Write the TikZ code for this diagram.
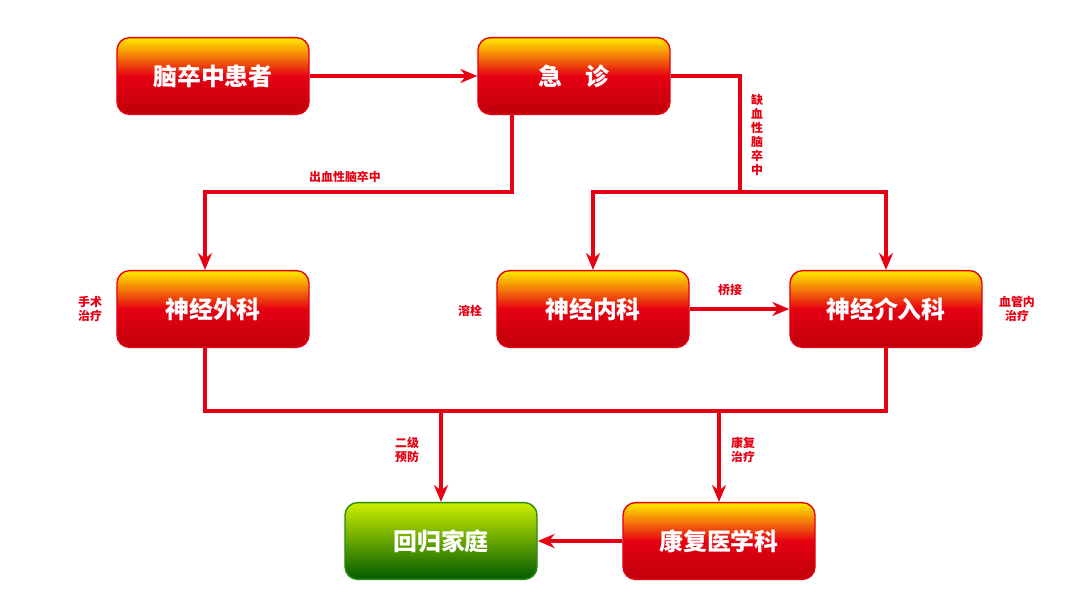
\documentclass[tikz,border=0pt]{standalone}
\usepackage{fontspec}
\newfontfamily\cjk{Noto Sans CJK SC}
\usetikzlibrary{arrows.meta}
\definecolor{boxred}{RGB}{230,0,18}
\definecolor{boxdark}{RGB}{190,0,10}
\definecolor{boxyellow}{RGB}{255,236,0}
\definecolor{boxgreen}{RGB}{40,140,20}
\begin{document}
\begin{tikzpicture}[x=0.025cm, y=-0.025cm, >={Stealth[length=12pt,width=10pt]},
		box_style/.style={rectangle,rounded corners=9pt,draw=boxred,line width=1pt,
			minimum width=4.8cm,minimum height=1.92cm,top color=boxyellow,bottom color=boxdark,
			middle color=boxred,text=white,font=\cjk\bfseries\fontsize{17}{20}\selectfont},
		home_style/.style={box_style,draw=boxgreen,top color=boxyellow!80!green,
			middle color=green!65!black,bottom color=green!35!black},
		edge_style/.style={draw=boxred,line width=2.2pt},
		label_style/.style={text=boxred,font=\cjk\bfseries\fontsize{8.5}{10}\selectfont,align=center}]
		
		\useasboundingbox (0,0) rectangle (1080,604);
		
		\node[box_style] (patient) at (213,76)  {脑卒中患者};
		\node[box_style] (er) at (574,76)  {急\hspace{1em}诊};
		\node[box_style] (surg) at (213,309)  {神经外科};
		\node[box_style] (neuro) at (593,309)  {神经内科};
		\node[box_style] (interv) at (886,309)  {神经介入科};
		\node[home_style] (home) at (441,541)  {回归家庭};
		\node[box_style] (rehab) at (719,541)  {康复医学科};
		
		\coordinate (c1) at (512,192);
		\coordinate (c2) at (740,192);
		\coordinate (c3) at (205,411);
		\coordinate (c4) at (441,411);
		\coordinate (c5) at (719,411);
		
		\draw[edge_style,->]  (patient) -- (er);
		\draw[edge_style,->]  (er.south -| c1) -- (c1) -| (surg.north -| c3);
		\draw[edge_style]  (er.east) -| (c2);
		\draw[edge_style,->]  (c2) -| (neuro.north);
		\draw[edge_style,->]  (c2) -| (interv.north);
		\draw[edge_style,->]  (neuro) -- (interv);
		\draw[edge_style]  (surg.south -| c3) -- (c3) -- (c3 -| interv.south) -- (interv.south);
		\draw[edge_style,->]  (c4) -- (home);
		\draw[edge_style,->]  (c5) -- (rehab);
		\draw[edge_style,->]  (rehab) -- (home);
		
		\node[label_style] (l1) at (345,177) {出血性脑卒中};
		\node[label_style] (l2) at (757,135) {缺\\血\\性\\脑\\卒\\中};
		\node[label_style] (l3) at (730,290) {桥接};
		\node[label_style] (l4) at (470,311) {溶栓};
		\node[label_style] (l5) at (90,309) {手术\\治疗};
		\node[label_style] (l6) at (1017,309) {血管内\\治疗};
		\node[label_style] (l7) at (407,450) {二级\\预防};
		\node[label_style] (l8) at (743,450) {康复\\治疗};
		
\end{tikzpicture}
\end{document}
